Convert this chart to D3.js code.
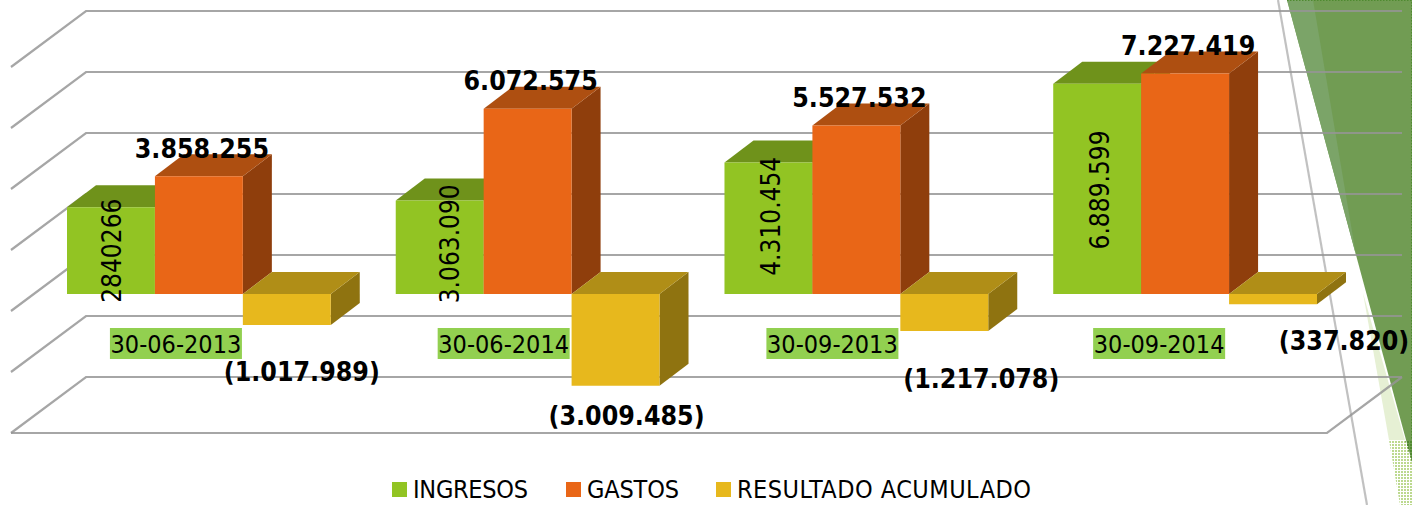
<!DOCTYPE html>
<html>
<head>
<meta charset="utf-8">
<script src="https://cdn.jsdelivr.net/npm/d3@7"></script>
<style>
  html, body { margin: 0; padding: 0; background: #fff; }
  svg { display: block; }
  text { font-family: "DejaVu Sans", sans-serif; fill: #000; font-stretch: condensed; }
  .bold { font-weight: bold; font-size: 26.5px; }
  .rot { font-size: 26px; }
  .cat { font-size: 25px; }
  .leg { font-size: 25px; }
</style>
</head>
<body>
<svg class="chart"></svg>
<script>
// DATA /////////////////////////////////
const categories = ["30-06-2013", "30-06-2014", "30-09-2013", "30-09-2014"];
const seriesNames = ["INGRESOS", "GASTOS", "RESULTADO ACUMULADO"];
const ingresos = [2840266, 3063090, 4310454, 6889599];
const gastos = [3858255, 6072575, 5527532, 7227419];
const resultado = [-1017989, -3009485, -1217078, -337820];
const ingresosLabels = ["2840266", "3.063.090", "4.310.454", "6.889.599"];
const gastosLabels = ["3.858.255", "6.072.575", "5.527.532", "7.227.419"];
const resultadoLabels = ["(1.017.989)", "(3.009.485)", "(1.217.078)", "(337.820)"];
const gridTicks = [-4000000, -2000000, 0, 2000000, 4000000, 6000000, 8000000];

const show = () => {
  // DEFINITIONS /////////////////////////////////
  const width = 1412;
  const height = 505;
  const svg = d3.select(".chart").attr("width", width).attr("height", height);

  // front edge of the floor, the back wall sits wallDx/wallDy behind it
  const floorLeft = 11;
  const floorRight = 1327;
  const wallDx = 75;
  const wallDy = 56;
  const barDx = 29;
  const barDy = 22;

  const x0 = d3.scaleBand().domain(categories).range([67, 1317]).paddingInner(0.1976);
  const x1 = d3.scaleBand().domain(seriesNames).range([0, x0.bandwidth()]);
  const yWall = d3.scaleLinear().domain([-4000000, 8000000]).range([377, 11]);
  // bars stand in the middle of the floor depth
  const y = (v) => yWall(v) + (wallDy + barDy) / 2;

  const colors = {
    [seriesNames[0]]: { front: "#92c423", top: "#6f921b", side: "#6f921b" },
    [seriesNames[1]]: { front: "#e96617", top: "#ae4f11", side: "#8f3e0c" },
    [seriesNames[2]]: { front: "#e7b81d", top: "#b08e17", side: "#8f7310" },
  };

  // BACKGROUND SHAPES /////////////////////////////////
  const bg = svg.append("g");
  const defs = svg.append("defs");
  const addDots = (id, color) =>
    defs.append("pattern")
      .attr("id", id).attr("width", 3).attr("height", 3)
      .attr("patternUnits", "userSpaceOnUse")
      .append("rect").attr("width", 2).attr("height", 2).attr("fill", color);
  addDots("dots", "#bcd98f");
  addDots("darkDots", "#4f8a30");

  bg.append("polygon").attr("points", "1363,293 1405,440 1389,440").attr("fill", "#e6f0d4");
  bg.append("polygon").attr("points", "1389,440 1412,440 1412,505 1400,505").attr("fill", "url(#dots)");
  bg.append("polygon").attr("points", "1287,0 1412,0 1412,462").attr("fill", "#719c53");
  bg.append("polygon").attr("points", "1405,440 1412,440 1412,462").attr("fill", "url(#darkDots)");
  bg.append("polygon").attr("points", "1287,0 1313,0 1356,255").attr("fill", "#7ba468");
  // dotted rim on the top and right of the green shape
  bg.append("path")
    .attr("d", d3.line()([[1287, 0.5], [1411.5, 0.5], [1411.5, 440]]))
    .attr("fill", "none").attr("stroke", "#4f8a30").attr("stroke-width", 1).attr("stroke-dasharray", "1.5 1.5");

  // WALLS AND GRID /////////////////////////////////
  const grid = svg.append("g").attr("fill", "none").attr("stroke", "#959595").attr("stroke-opacity", 0.84).attr("stroke-width", 2.2);
  grid.append("path")
    .attr("stroke", "#b5b5b5")
    .attr("d", d3.line()([[1278, 0], [1367, 505]]));
  grid.selectAll(".wall")
    .data(gridTicks)
    .enter()
    .append("path")
    .attr("class", "wall")
    .attr("d", (d) => d3.line()([
      [floorLeft, yWall(d) + wallDy],
      [floorLeft + wallDx, yWall(d)],
      [floorRight + wallDx, yWall(d)],
    ]));
  grid.append("path")
    .attr("d", d3.line()([
      [floorLeft, yWall(-4000000) + wallDy],
      [floorRight, yWall(-4000000) + wallDy],
      [floorRight + wallDx, yWall(-4000000)],
    ]));

  // BARS /////////////////////////////////
  const seriesValues = [ingresos, gastos, resultado];
  const bars = svg.append("g");
  categories.forEach((cat, c) => {
    seriesNames.forEach((name, s) => {
      const v = seriesValues[s][c];
      const left = x0(cat) + x1(name);
      const right = left + x1.bandwidth();
      const top = Math.min(y(v), y(0));
      const bottom = Math.max(y(v), y(0));
      const g = bars.append("g");
      const poly = (pts, fill) => g.append("polygon").attr("points", pts.join(" ")).attr("fill", fill);
      poly([[right, top], [right + barDx, top - barDy], [right + barDx, bottom - barDy], [right, bottom]], colors[name].side);
      poly([[left, top], [right, top], [right + barDx, top - barDy], [left + barDx, top - barDy]], colors[name].top);
      poly([[left, top], [right, top], [right, bottom], [left, bottom]], colors[name].front);
    });
  });

  // LABELS /////////////////////////////////
  const labels = svg.append("g");
  // category tags under the bars
  const tagOffset = [21, 20, 20, 18];
  categories.forEach((cat, i) => {
    const cx = x0(cat) + x1.bandwidth() + tagOffset[i];
    const tag = labels.append("g");
    tag.append("rect").attr("x", cx - 66).attr("y", 328).attr("width", 132).attr("height", 31).attr("fill", "#92d050");
    tag.append("text").attr("class", "cat").attr("x", cx).attr("y", 353).attr("text-anchor", "middle").text(cat);
  });

  // rotated labels on the green bars, hand placed in the original
  const rotOffset = [[0, 0], [9, -3.5], [2, -12], [2, 1]];
  ingresos.forEach((v, i) => {
    const cx = x0(categories[i]) + x1(seriesNames[0]) + x1.bandwidth() / 2 + rotOffset[i][0];
    const cy = (y(v) + y(0)) / 2 + rotOffset[i][1];
    labels.append("text").attr("class", "rot")
      .attr("transform", `translate(${cx + 10}, ${cy}) rotate(-90)`)
      .attr("text-anchor", "middle").text(ingresosLabels[i]);
  });

  gastos.forEach((v, i) => {
    labels.append("text").attr("class", "bold")
      .attr("x", x0(categories[i]) + x1(seriesNames[1]) + x1.bandwidth() / 2 + 3)
      .attr("y", y(v) - 18.5)
      .attr("text-anchor", "middle").text(gastosLabels[i]);
  });

  const resOffset = [15, 11, 37, 71];
  const resBelow = [56, 39, 57, 46];
  resultado.forEach((v, i) => {
    labels.append("text").attr("class", "bold")
      .attr("x", x0(categories[i]) + x1(seriesNames[2]) + x1.bandwidth() / 2 + resOffset[i])
      .attr("y", y(v) + resBelow[i])
      .attr("text-anchor", "middle").text(resultadoLabels[i]);
  });

  // LEGEND /////////////////////////////////
  const legendX = [392, 566, 716];
  const legendWidth = [115, 92, 294];
  const legend = svg.append("g");
  seriesNames.forEach((name, i) => {
    legend.append("rect").attr("x", legendX[i]).attr("y", 482).attr("width", 15).attr("height", 15).attr("fill", colors[name].front);
    legend.append("text").attr("class", "leg").attr("x", legendX[i] + 21).attr("y", 498)
      .attr("textLength", legendWidth[i]).attr("lengthAdjust", "spacing").text(name);
  });
};

show();
</script>
</body>
</html>
